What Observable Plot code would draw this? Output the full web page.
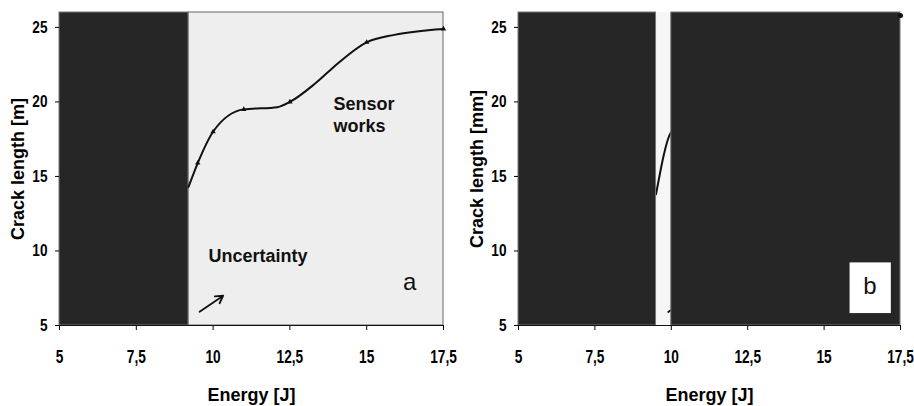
<!DOCTYPE html>
<html>
<head>
<meta charset="utf-8">
<script src="https://cdn.jsdelivr.net/npm/d3@7"></script>
<script src="https://cdn.jsdelivr.net/npm/@observablehq/plot@0.6"></script>
<style>
  html, body { margin: 0; padding: 0; background: #fff; }
  #wrap { display: flex; width: 914px; height: 406px; overflow: hidden; }
  #wrap > div { width: 457px; height: 406px; }
</style>
</head>
<body>
<div id="wrap"><div id="pa"></div><div id="pb"></div></div>
<script>
// ---- data ----
const xTicks = [5, 7.5, 10, 12.5, 15, 17.5];
const yTicks = [5, 10, 15, 20, 25];

// panel a: traced curve and measured points
const curveAEnergy = [9.2, 9.5, 10, 11, 12.1, 12.5, 13.3, 13.9, 15, 15.9, 17.5];
const curveACrack  = [14.3, 15.9, 18.0, 19.5, 19.65, 20.0, 21.2, 22.3, 24.0, 24.5, 24.9];
const pointsAEnergy = [9.5, 10, 11, 12.5, 15, 17.5];
const pointsACrack  = [15.9, 18.0, 19.5, 20.0, 24.0, 24.9];

// panel b: curve (mostly hidden behind the dark zones)
const curveBEnergy = [9.5, 10, 11, 12.5, 15, 17.5];
const curveBCrack  = [13.8, 18.0, 19.5, 20.0, 24.0, 25.8];

// zones
const darkZonesA  = [[5, 9.2]];
const lightZonesA = [[9.2, 17.5]];
const darkZonesB  = [[5, 9.5], [10, 17.5]];
const lightZonesB = [[9.5, 10]];

const fmt = d => String(d).replace(".", ",");
const zip = (xs, ys) => xs.map((x, i) => ({x, y: ys[i]}));
const zones = z => z.map(([a, b]) => ({x1: a, x2: b, y1: 5, y2: 26}));

const textFont = "'Liberation Sans', Arial, sans-serif";

function panel(opts) {
  return Plot.plot({
    width: 457,
    height: 406,
    marginLeft: opts.marginLeft,
    marginRight: 14,
    marginTop: 12,
    marginBottom: 81,
    style: {fontFamily: textFont, background: "#fff"},
    x: {domain: [5, 17.5]},
    y: {domain: [5, 26]},
    marks: [
      ...opts.under,
      Plot.axisX({ticks: xTicks, tickFormat: fmt, tickSize: 5, tickPadding: 19,
        fontSize: 19, fontWeight: "bold", label: null}),
      Plot.axisY({ticks: yTicks, tickFormat: fmt, tickSize: 4, tickPadding: 8,
        fontSize: 17, fontWeight: "bold", label: null}),
      Plot.axisX({ticks: [], tickSize: 0, fontSize: 18, fontWeight: "bold",
        label: "Energy [J]", labelAnchor: "center", labelOffset: 75, labelArrow: "none"}),
      Plot.axisY({ticks: [], tickSize: 0, fontSize: 18, fontWeight: "bold",
        label: opts.ylabel, labelAnchor: "center", labelOffset: 48, labelArrow: "none"}),
      Plot.ruleY([5], {stroke: "#111", strokeWidth: 1.2})
    ]
  });
}

const plotA = panel({
  marginLeft: 59,
  ylabel: "Crack length [m]",
  under: [
    Plot.rect(zones(lightZonesA), {x1: "x1", x2: "x2", y1: "y1", y2: "y2", fill: "#eeeeee", stroke: "#666", strokeWidth: 1}),
    Plot.rect(zones(darkZonesA), {x1: "x1", x2: "x2", y1: "y1", y2: "y2", fill: "#262626", stroke: "#777", strokeWidth: 1}),
    Plot.line(zip(curveAEnergy, curveACrack), {x: "x", y: "y", curve: "monotone-x", stroke: "#111", strokeWidth: 2}),
    Plot.dot(zip(pointsAEnergy, pointsACrack), {x: "x", y: "y", r: 2, fill: "#111", symbol: "triangle"}),
    Plot.text(["Sensor\nworks"], {x: 13.92, y: 19.2, text: d => d, textAnchor: "start", fontSize: 18, fontWeight: "bold", lineHeight: 1.25, fill: "#111"}),
    Plot.text(["Uncertainty"], {x: 9.85, y: 9.67, text: d => d, textAnchor: "start", fontSize: 18, fontWeight: "bold", fill: "#111"}),
    Plot.text(["a"], {x: 16.4, y: 7.9, text: d => d, fontSize: 24, fill: "#111"}),
    Plot.arrow([{x1: 9.56, y1: 5.92, x2: 10.33, y2: 7.0}], {x1: "x1", y1: "y1", x2: "x2", y2: "y2", stroke: "#111", strokeWidth: 1.8, headLength: 7})
  ]
});

const plotB = panel({
  marginLeft: 61,
  ylabel: "Crack length [mm]",
  under: [
    Plot.rect(zones(lightZonesB), {x1: "x1", x2: "x2", y1: "y1", y2: "y2", fill: "#f6f6f6"}),
    Plot.line(zip(curveBEnergy, curveBCrack), {x: "x", y: "y", curve: "monotone-x", stroke: "#111", strokeWidth: 2}),
    Plot.arrow([{x1: 9.9, y1: 5.9, x2: 10.6, y2: 6.9}], {x1: "x1", y1: "y1", x2: "x2", y2: "y2", stroke: "#111", strokeWidth: 1.8, headLength: 7}),
    Plot.rect(zones(darkZonesB), {x1: "x1", x2: "x2", y1: "y1", y2: "y2", fill: "#262626", stroke: "#777", strokeWidth: 1}),
    Plot.dot([{x: curveBEnergy[curveBEnergy.length - 1], y: curveBCrack[curveBCrack.length - 1]}], {x: "x", y: "y", r: 2.5, fill: "#111"}),
    Plot.rect([{x1: 15.85, x2: 17.2, y1: 5.8, y2: 9.2}], {x1: "x1", x2: "x2", y1: "y1", y2: "y2", fill: "#fff"}),
    Plot.text(["b"], {x: 16.5, y: 7.6, text: d => d, fontSize: 24, fill: "#111"})
  ]
});

document.getElementById("pa").appendChild(plotA);
document.getElementById("pb").appendChild(plotB);

// larger, condensed tick labels (as in the reference's narrow bold face)
function condense(selector, size, factor) {
  document.querySelectorAll(selector).forEach(g => {
    g.setAttribute("font-size", size);
    g.style.fontSize = size + "px";
    g.querySelectorAll("text").forEach(t => {
      t.setAttribute("font-size", size);
      t.style.fontSize = size + "px";
      const w = t.getComputedTextLength();
      if (w > 0) {
        t.setAttribute("textLength", (w * factor).toFixed(2));
        t.setAttribute("lengthAdjust", "spacingAndGlyphs");
      }
    });
  });
}
condense('g[aria-label="x-axis tick label"]', 19, 0.72);
condense('g[aria-label="y-axis tick label"]', 17, 0.8);
</script>
</body>
</html>
